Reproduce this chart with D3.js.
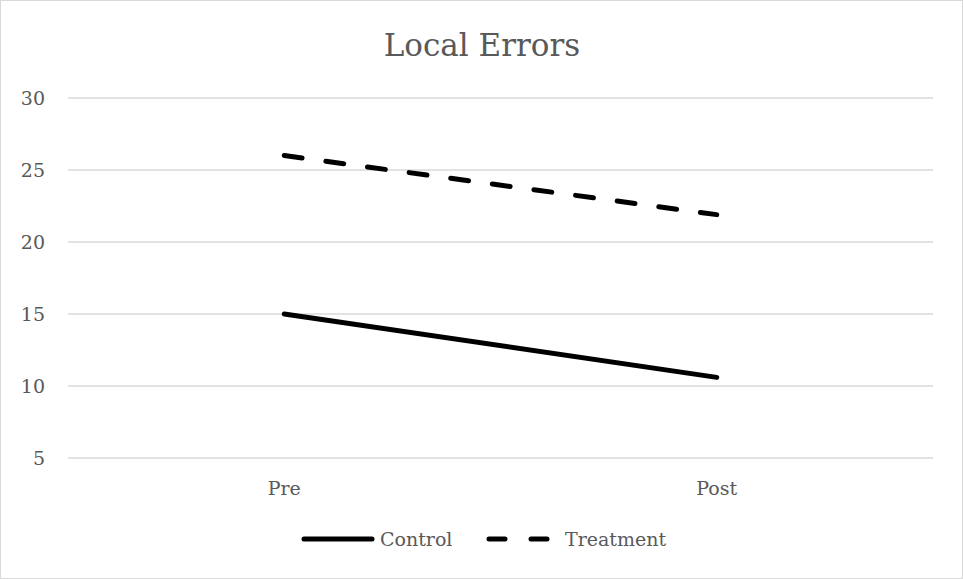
<!DOCTYPE html>
<html><head><meta charset="utf-8">
<script src="https://cdn.jsdelivr.net/npm/d3@7"></script>
<style>body{margin:0;background:#fff}svg{display:block}text{font-family:"DejaVu Serif","Liberation Serif",serif;fill:#595959}</style>
</head><body>
<script>
const categories = ["Pre", "Post"];
const controlValues = [15, 10.6];
const treatmentValues = [26, 21.9];
const yTicks = [5, 10, 15, 20, 25, 30];
const seriesNames = ["Control", "Treatment"];

const W = 963, H = 579;
const svg = d3.select("body").append("svg").attr("width", W).attr("height", H);
svg.append("rect").attr("x", 0.5).attr("y", 0.5).attr("width", W - 1).attr("height", H - 1)
  .attr("fill", "#fff").attr("stroke", "#d9d9d9");

const x = d3.scaleBand().domain(categories).range([68, 933]);
const y = d3.scaleLinear().domain([5, 30]).range([458, 98]);

svg.append("text").attr("x", 482).attr("y", 56).attr("text-anchor", "middle")
  .attr("font-size", 31).text("Local Errors");

const grid = svg.append("g");
yTicks.forEach(t => {
  grid.append("line").attr("x1", 68).attr("x2", 933).attr("y1", y(t)).attr("y2", y(t))
    .attr("stroke", "#d9d9d9").attr("stroke-width", 1.3);
  grid.append("text").attr("x", 45).attr("y", y(t)).attr("dy", "0.35em")
    .attr("text-anchor", "end").attr("font-size", 19).text(t);
});

categories.forEach(c => {
  svg.append("text").attr("x", x(c) + x.bandwidth() / 2).attr("y", 495)
    .attr("text-anchor", "middle").attr("font-size", 19).text(c);
});

const line = d3.line().x((d, i) => x(categories[i]) + x.bandwidth() / 2).y(d => y(d));
svg.append("path").datum(controlValues).attr("d", line).attr("fill", "none")
  .attr("stroke", "#000").attr("stroke-width", 5).attr("stroke-linecap", "round");
svg.append("path").datum(treatmentValues).attr("d", line).attr("fill", "none")
  .attr("stroke", "#000").attr("stroke-width", 5).attr("stroke-linecap", "round")
  .attr("stroke-dasharray", "18,24");

// legend
const ly = 539;
svg.append("line").attr("x1", 304).attr("x2", 372).attr("y1", ly).attr("y2", ly)
  .attr("stroke", "#000").attr("stroke-width", 5).attr("stroke-linecap", "round");
svg.append("text").attr("x", 380).attr("y", ly).attr("dy", "0.35em").attr("font-size", 19).text(seriesNames[0]);
svg.append("line").attr("x1", 489).attr("x2", 550).attr("y1", ly).attr("y2", ly)
  .attr("stroke", "#000").attr("stroke-width", 5).attr("stroke-linecap", "round")
  .attr("stroke-dasharray", "16,26");
svg.append("text").attr("x", 565).attr("y", ly).attr("dy", "0.35em").attr("font-size", 19).text(seriesNames[1]);
</script>
</body></html>
